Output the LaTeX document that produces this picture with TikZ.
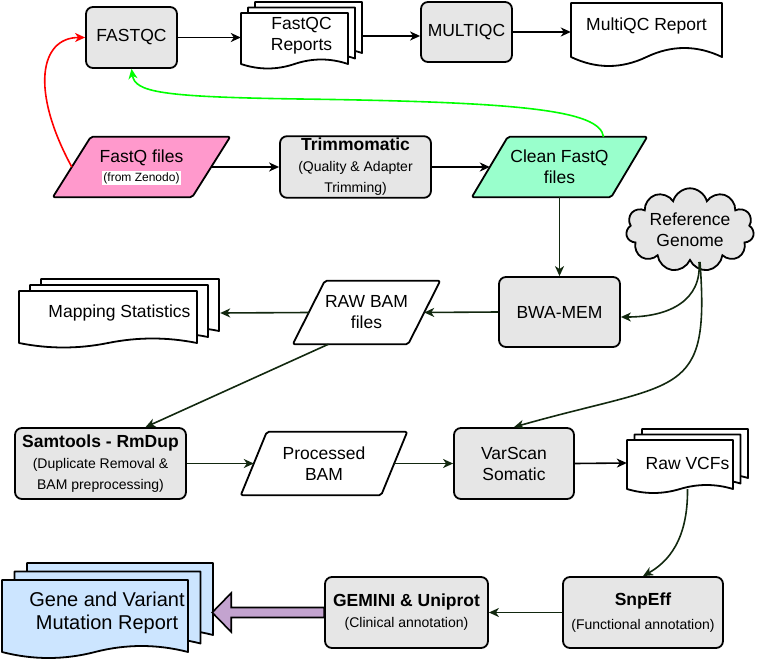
\documentclass[tikz,border=0pt]{standalone}
\usepackage{fontspec}
\setmainfont{Liberation Sans}
\usetikzlibrary{arrows.meta,shapes.symbols,calc,backgrounds}

\definecolor{boxgray}{HTML}{E6E6E6}
\definecolor{pinkfill}{HTML}{FF99CC}
\definecolor{greenfill}{HTML}{99FFCC}
\definecolor{bluefill}{HTML}{CCE5FF}
\definecolor{purplefill}{HTML}{C3A3CF}
\definecolor{edgegreen}{HTML}{12280F}

\newcommand{\smalltxt}{\fontsize{14}{16}\selectfont}
% one page with a wavy lower edge: fill, x, y, width, lower edge, wave
\newcommand{\docpage}[6]{%
  \draw[shapeline, fill=#1] (#2,#3) -- ({#2+#4},#3) -- ({#2+#4},#5)
    .. controls ({#2+5*#4/6},{#5-4*#6/3}) and ({#2+2*#4/3},{#5-4*#6/3}) .. ({#2+#4/2},#5)
    .. controls ({#2+#4/3},{#5+4*#6/3}) and ({#2+#4/6},{#5+4*#6/3}) .. (#2,#5) -- cycle;}
% three pages: fill, x, y, width, lower edge, wave, dx, dy
\newcommand{\docstack}[8]{%
  \docpage{#1}{#2+2*#7}{#3-2*#8}{#4}{#5-2*#8}{#6}
  \docpage{#1}{#2+#7}{#3-#8}{#4}{#5-#8}{#6}
  \docpage{#1}{#2}{#3}{#4}{#5}{#6}}
% parallelogram round a node: node, slant, fill
\newcommand{\para}[3]{%
  \draw[shapeline, fill=#3, rounded corners=2pt] ([xshift=-#2]#1.south west) -- ([xshift=#2]#1.north west)
    -- ([xshift=#2]#1.north east) -- ([xshift=-#2]#1.south east) -- cycle;}

\tikzset{
  base/.style={font=\fontsize{17.5}{21}\selectfont, align=center, inner sep=2pt},
  procbox/.style={base, draw, line width=1.8pt, fill=boxgray, rounded corners=7pt},
  paratext/.style={base},
  doctext/.style={base},
  cloudnode/.style={base, draw, shape=cloud, cloud puffs=11, aspect=2, fill=boxgray, line width=1.8pt},
  shapeline/.style={line width=1.8pt, line join=round},
  arr/.style={line width=1.6pt, -{Stealth[length=10pt,width=9pt,inset=3pt]}},
  garr/.style={arr, draw=edgegreen},
}

\begin{document}
\begin{tikzpicture}[x=1pt,y=-1pt]
\useasboundingbox (0,0) rectangle (760,663);

% quality control row
\node[procbox, minimum width=91, minimum height=61] (fastqc) at (131.5,37.5) {FASTQC};
\node[doctext, minimum width=121, minimum height=68] (fqrep) at (301.5,36) {FastQC\\Reports};
\node[procbox, minimum width=91, minimum height=60] (multiqc) at (466.5,32) {MULTIQC};
\node[doctext, minimum width=151, minimum height=46] (mqcrep) at (646.5,26) {MultiQC Report};

% trimming row
\node[paratext, minimum width=139, minimum height=60] (fastq) at (141.5,167)
  {FastQ files\\[-2pt]\setlength{\fboxsep}{1pt}\colorbox{white}{\fontsize{12}{14}\selectfont (from Zenodo)}};
\node[procbox, minimum width=151, minimum height=60] (trim) at (355.5,167)
  {\textbf{Trimmomatic}\\ \smalltxt (Quality \& Adapter\\ \smalltxt Trimming)};
\node[paratext, minimum width=139, minimum height=60] (clean) at (559.5,167) {Clean FastQ\\files};
\node[cloudnode, minimum width=126, minimum height=66] (refgen) at (690,230) {Reference\\Genome};

% mapping row
\node[procbox, minimum width=121, minimum height=70] (bwa) at (559.5,312) {BWA-MEM};
\node[paratext, minimum width=115, minimum height=63] (rawbam) at (366.5,312.5) {RAW BAM\\files};
\node[doctext, minimum width=201, minimum height=68] (mapstat) at (119.5,313) {Mapping Statistics};

% calling row
\node[procbox, minimum width=171, minimum height=71] (samtools) at (100.5,463.5)
  {\textbf{Samtools - RmDup}\\ \smalltxt (Duplicate Removal \&\\ \smalltxt BAM preprocessing)};
\node[paratext, minimum width=140, minimum height=63] (procbam) at (324,463.5) {Processed\\BAM};
\node[procbox, minimum width=120, minimum height=71] (varscan) at (514,463.5) {VarScan\\Somatic};
\node[doctext, minimum width=121, minimum height=68] (rawvcf) at (687.5,463) {Raw VCFs};

% annotation row
\node[procbox, minimum width=160, minimum height=71] (snpeff) at (643,612.5)
  {\textbf{SnpEff}\\[3pt] \smalltxt (Functional annotation)};
\node[procbox, minimum width=163, minimum height=71] (gemini) at (406.5,612.5)
  {\textbf{GEMINI \& Uniprot}\\ \smalltxt (Clinical annotation)};
\node[doctext, minimum width=210, minimum height=97, font=\fontsize{20}{23}\selectfont] (report) at (107,612.5)
  {Gene and Variant\\Mutation Report};

\begin{scope}[on background layer]
\para{fastq}{19}{pinkfill}
\para{clean}{18}{greenfill}
\para{rawbam}{16}{white}
\para{procbam}{13}{white}
\docstack{white}{241}{13}{107}{64}{4.5}{7}{5.5}
\docpage{white}{571}{3}{151}{57}{9}
\docstack{white}{19}{291}{178}{343}{4.5}{11}{6}
\docstack{white}{627}{440}{106}{489}{4}{7.5}{5.5}
\docstack{bluefill}{2}{580}{186}{652}{6}{12.5}{8.5}
\end{scope}

% connectors
\draw[arr] (fastqc.east) -- (fastqc.east -| fqrep.west);
\draw[arr] (fqrep.east) -- (fqrep.east -| multiqc.west);
\draw[arr] (multiqc.east) -- (multiqc.east -| mqcrep.west);
\draw[arr] (fastq.east) -- (trim.west);
\draw[arr] (trim.east) -- (clean.west);
\draw[arr, draw=red] (fastq.west) .. controls (30,90) and (40,37.5) .. (fastqc.west);
\draw[arr, draw=green] ([xshift=44]clean.north) .. controls (600,110) and (520,102) .. (300,99)
  .. controls (160,97) and (135,92) .. (fastqc.south);
\draw[garr] (clean.south) -- (bwa.north);
\draw[garr] ([xshift=9]refgen.south) .. controls (702,300) and (670,317) .. ([yshift=-5]bwa.east);
\draw[garr] ([xshift=10]refgen.south) .. controls (710,400) and (680,380) .. (varscan.north);
\draw[garr] (bwa.west) -- (rawbam.east);
\draw[garr] (rawbam.west) -- (mapstat.east);
\draw[garr] ([xshift=-38]rawbam.south) -- ([xshift=45]samtools.north);
\draw[garr] (samtools.east) -- (procbam.west);
\draw[garr] (procbam.east) -- (varscan.west);
\draw[arr] (varscan.east) -- (rawvcf.west);
\draw[garr] ([yshift=8]rawvcf.south) .. controls (688,540) and (668,562) .. (snpeff.north);
\draw[garr] (snpeff.west) -- (gemini.east);
\draw[line width=1.6pt, line join=miter, fill=purplefill] ($(gemini.west)+(0,5)$) -- ($(report.east)+(19,5)$)
  -- ($(report.east)+(19,19.5)$) -- (report.east) -- ($(report.east)+(19,-19.5)$)
  -- ($(report.east)+(19,-5)$) -- ($(gemini.west)+(0,-5)$) -- cycle;
\end{tikzpicture}
\end{document}
